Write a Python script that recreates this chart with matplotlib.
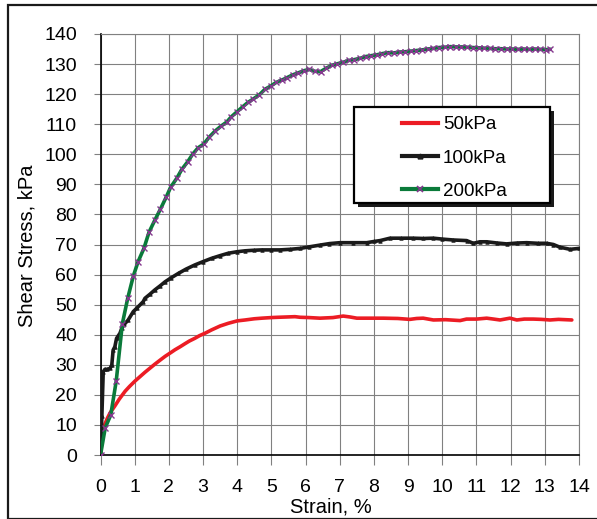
import matplotlib
matplotlib.use("Agg")
import matplotlib.pyplot as plt
from matplotlib.patches import Rectangle
from matplotlib.lines import Line2D

plt.rcParams['font.family'] = ['Liberation Sans', 'DejaVu Sans']

# Direct shear test: shear stress vs. horizontal strain for three normal stresses
strain_50 = [0, 0.08, 0.13, 0.20, 0.28, 0.42, 0.55, 0.72, 0.85, 1.01, 1.15, 1.30, 1.45, 1.59,
             1.75, 1.89, 2.05, 2.18, 2.33, 2.47, 2.60, 2.76, 2.90, 3.06, 3.25, 3.50, 3.74, 4.00,
             4.23, 4.50, 4.72, 5.00, 5.20, 5.45, 5.69, 5.84, 6.10, 6.42, 6.80, 7.10, 7.30, 7.50,
             7.90, 8.27, 8.70, 9.05, 9.25, 9.44, 9.74, 10.10, 10.52, 10.71, 11.00, 11.30, 11.50,
             11.69, 11.98, 12.18, 12.40, 12.66, 12.90, 13.15, 13.40, 13.79]
stress_50 = [0, 9.0, 10.3, 12.2, 14.0, 16.3, 18.6, 21.2, 22.8, 24.6, 26.0, 27.5, 28.9, 30.2,
             31.6, 32.8, 34.0, 35.0, 36.0, 37.0, 37.9, 38.8, 39.7, 40.5, 41.6, 42.9, 43.8, 44.6,
             44.9, 45.3, 45.5, 45.7, 45.8, 45.9, 46.0, 45.8, 45.7, 45.5, 45.7, 46.2, 45.9, 45.5,
             45.5, 45.5, 45.4, 45.1, 45.4, 45.5, 44.9, 45.0, 44.7, 45.2, 45.2, 45.5, 45.2,
             44.9, 45.5, 44.9, 45.2, 45.2, 45.1, 44.9, 45.1, 44.9]

strain_100 = [0, 0.04, 0.08, 0.13, 0.20, 0.28, 0.33, 0.37, 0.42, 0.47, 0.57, 0.62, 0.70, 0.81,
              0.96, 1.06, 1.25, 1.30, 1.45, 1.59, 1.75, 1.89, 2.05, 2.28, 2.50, 2.76, 3.00, 3.25,
              3.50, 3.74, 4.00, 4.23, 4.50, 4.72, 5.00, 5.25, 5.55, 5.84, 6.10, 6.42, 6.70, 7.00,
              7.40, 7.79, 8.00, 8.18, 8.47, 8.80, 9.15, 9.45, 9.74, 10.00, 10.32, 10.71, 10.91,
              11.10, 11.30, 11.60, 11.88, 12.20, 12.47, 12.80, 13.05, 13.25, 13.44, 13.74, 14.00]
stress_100 = [0, 13.0, 27.7, 28.5, 28.5, 28.8, 29.9, 34.9, 36.0, 38.8, 40.5, 42.1, 43.5, 44.9,
              47.7, 48.8, 51.0, 52.1, 53.5, 54.9, 56.3, 57.6, 58.8, 60.4, 61.8, 63.2, 64.3, 65.4,
              66.3, 67.1, 67.6, 67.9, 68.1, 68.2, 68.2, 68.2, 68.4, 68.7, 69.2, 69.8, 70.3, 70.6,
              70.6, 70.6, 71.0, 71.3, 72.1, 72.1, 72.1, 72.0, 72.1, 71.8, 71.5, 71.3, 70.4,
              70.9, 70.9, 70.5, 70.2, 70.5, 70.6, 70.4, 70.4, 70.0, 69.1, 68.4, 68.7]

strain_200 = [0, 0.14, 0.30, 0.46, 0.64, 0.80, 0.96, 1.10, 1.27, 1.42, 1.59, 1.75, 1.92, 2.05,
              2.23, 2.38, 2.55, 2.70, 2.86, 3.02, 3.18, 3.35, 3.52, 3.69, 3.83, 4.00, 4.16, 4.32,
              4.47, 4.65, 4.81, 4.98, 5.14, 5.31, 5.46, 5.62, 5.79, 5.95, 6.11, 6.27, 6.44, 6.60,
              6.77, 6.93, 7.10, 7.26, 7.43, 7.59, 7.76, 7.92, 8.09, 8.25, 8.42, 8.58, 8.75, 8.91,
              9.08, 9.24, 9.41, 9.57, 9.74, 9.90, 10.07, 10.23, 10.40, 10.56, 10.73, 10.89, 11.06,
              11.22, 11.39, 11.55, 11.72, 11.88, 12.05, 12.21, 12.38, 12.54, 12.71, 12.87, 13.04,
              13.15]
stress_200 = [0, 9.1, 13.3, 24.6, 43.7, 52.3, 59.5, 64.3, 68.7, 74.1, 78.1, 81.7, 85.7, 89.0,
              92.0, 95.0, 97.5, 100.1, 102.2, 103.4, 105.7, 107.7, 109.3, 110.7, 112.5, 114.2,
              115.8, 117.3, 118.4, 119.8, 121.6, 122.7, 123.9, 124.7, 125.5, 126.4, 127.1, 127.8,
              128.2, 127.6, 127.5, 128.6, 129.6, 130.1, 130.6, 131.2, 131.5, 131.9, 132.5, 132.8,
              133.1, 133.5, 133.8, 133.7, 134.0, 134.1, 134.3, 134.5, 134.7, 135.0, 135.2, 135.5,
              135.6, 135.8, 135.7, 135.7, 135.6, 135.5, 135.4, 135.3, 135.2, 135.1, 135.1, 135.0,
              135.0, 134.9, 135.0, 134.9, 135.0, 134.9, 134.8, 134.9]

series_labels = ['50kPa', '100kPa', '200kPa']
x_ticks = list(range(0, 15))
y_ticks = list(range(0, 141, 10))

RED = '#ec1c24'
GREEN = '#0a7a3a'
PURPLE = '#86388f'
GRID = '#808080'

W, H = 597, 519
fig = plt.figure(figsize=(W / 100, H / 100), dpi=100)

# outer chart-area frame
fig.patches.append(Rectangle((8 / W, 0), 1.0, 1 - 5 / H, transform=fig.transFigure,
                             fill=False, edgecolor='#1a1a1a', linewidth=1.6))

ax = fig.add_axes([100.5 / W, (H - 455) / H, (579 - 100.5) / W, (455 - 34) / H])

ax.plot(strain_50, stress_50, color=RED, linewidth=2.6, solid_capstyle='round', zorder=3)
ax.plot(strain_100, stress_100, color='#1a1a1a', linewidth=2.6, marker='^', markersize=2.5,
        markeredgewidth=0.6, zorder=3)
ax.plot(strain_200, stress_200, color=GREEN, linewidth=2.6, marker='x', markersize=4.5,
        markeredgecolor=PURPLE, markeredgewidth=1.0, zorder=4)

ax.set_xlim(0, 14)
ax.set_ylim(0, 140)
ax.set_xticks(x_ticks)
ax.set_yticks(y_ticks)
ax.grid(True, color=GRID, linewidth=0.8)
ax.set_axisbelow(True)

for side in ('top', 'right'):
    ax.spines[side].set_color(GRID)
    ax.spines[side].set_linewidth(0.8)
for side in ('left', 'bottom'):
    ax.spines[side].set_color('black')
    ax.spines[side].set_linewidth(1.2)

ax.tick_params(axis='x', direction='out', length=7, width=0.8, color=GRID,
               labelsize=14, pad=10)
ax.tick_params(axis='y', direction='out', length=5, width=0.8, color=GRID,
               labelsize=14, pad=12)

fig.text(27 / W, 1 - 245.5 / H, 'Shear Stress, kPa', rotation=90, ha='center', va='center',
         fontsize=14.5)
fig.text(331 / W, 1 - 507 / H, 'Strain, %', ha='center', va='center', fontsize=14.5)

# legend box with drop shadow
def px_to_axes(px, py):
    return ((px - 100.5) / (579 - 100.5), (455 - py) / (455 - 34))

x0, y1 = px_to_axes(354, 107.3)
x1, y0 = px_to_axes(550, 203.3)
sx, sy = 4 / (579 - 100.5), 4 / (455 - 34)
ax.add_patch(Rectangle((x0 + sx, y0 - sy), x1 - x0, y1 - y0, transform=ax.transAxes,
                       facecolor='#1a1a1a', edgecolor='none', zorder=5, clip_on=False))
ax.add_patch(Rectangle((x0, y0), x1 - x0, y1 - y0, transform=ax.transAxes,
                       facecolor='white', edgecolor='black', linewidth=1.6, zorder=5.1,
                       clip_on=False))

handles = [
    Line2D([], [], color=RED, linewidth=3),
    Line2D([], [], color='#1a1a1a', linewidth=3, marker='^', markersize=3.5),
    Line2D([], [], color=GREEN, linewidth=3, marker='x', markersize=5,
           markeredgecolor=PURPLE, markeredgewidth=1.2),
]
hx, hy = px_to_axes(401.7, 158.0)
leg = ax.legend(handles, series_labels, loc='center left', bbox_to_anchor=(hx, hy),
                frameon=False, fontsize=13.5, handlelength=1.95, handletextpad=0.25,
                labelspacing=0.87, borderpad=0, borderaxespad=0)
leg.set_zorder(6)

fig.savefig('out.png', dpi=100)
